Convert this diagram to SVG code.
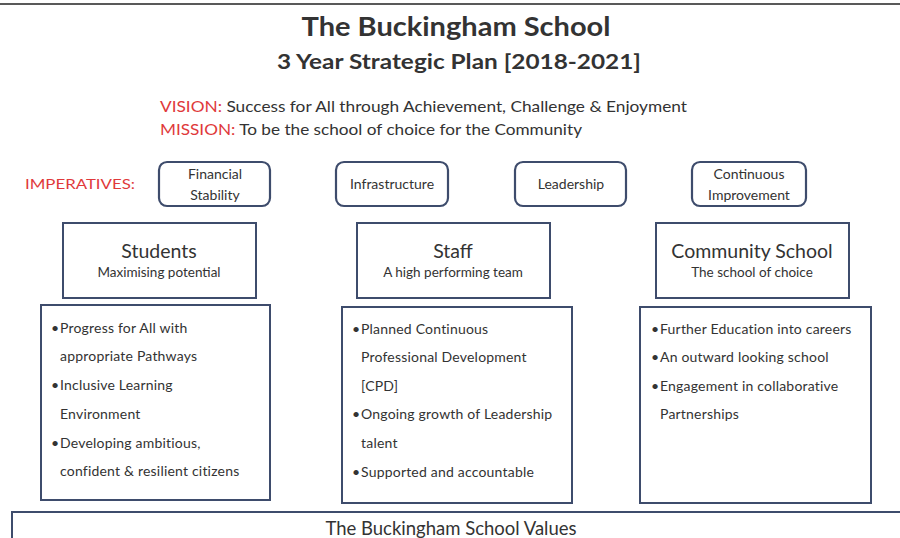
<svg xmlns="http://www.w3.org/2000/svg" width="900" height="538" viewBox="0 0 900 538">
<style>
text{font-family:Lato,"Liberation Sans",sans-serif;fill:#333}
.box{fill:#fff;stroke:#3e4c6c;stroke-width:2}
.imp{fill:#fff;stroke:#3e4c6c;stroke-width:2.2}
.red{fill:#e0393b}
.it{font-size:14px;text-anchor:middle}
.ht{font-size:19.5px;text-anchor:middle}
.hs{font-size:13.5px;text-anchor:middle}
.dt{font-size:14px;letter-spacing:0.2px}
</style>
<rect width="900" height="538" fill="#fff"/>
<line x1="0" y1="4" x2="900" y2="4" stroke="#222" stroke-width="1.5"/>
<g id="title">
<text x="456" y="36" font-size="26" font-weight="bold" text-anchor="middle" fill="#222" textLength="309" lengthAdjust="spacingAndGlyphs">The Buckingham School</text>
<text x="459" y="69" font-size="21" font-weight="bold" text-anchor="middle" fill="#222" textLength="364" lengthAdjust="spacingAndGlyphs">3 Year Strategic Plan [2018-2021]</text>
</g>
<g id="vision">
<text x="160" y="112" font-size="15" textLength="527" lengthAdjust="spacingAndGlyphs"><tspan class="red">VISION:</tspan> Success for All through Achievement, Challenge &amp; Enjoyment</text>
<text x="160" y="135" font-size="15" textLength="422" lengthAdjust="spacingAndGlyphs"><tspan class="red">MISSION:</tspan> To be the school of choice for the Community</text>
</g>
<text x="25" y="189" font-size="14" class="red" textLength="110" lengthAdjust="spacingAndGlyphs">IMPERATIVES:</text>
<g id="imp-financial"><rect class="imp" x="159" y="162" width="111" height="44" rx="8"/><text class="it" x="215" y="179">Financial</text><text class="it" x="215" y="200">Stability</text></g>
<g id="imp-infrastructure"><rect class="imp" x="336" y="162" width="112" height="44" rx="8"/><text class="it" x="392" y="189">Infrastructure</text></g>
<g id="imp-leadership"><rect class="imp" x="515" y="162" width="111" height="44" rx="8"/><text class="it" x="571" y="189">Leadership</text></g>
<g id="imp-continuous"><rect class="imp" x="692" y="162" width="114" height="44" rx="8"/><text class="it" x="749" y="179">Continuous</text><text class="it" x="749" y="200">Improvement</text></g>
<g id="students">
<rect class="box" x="63" y="223" width="193" height="75"/>
<text class="ht" x="159" y="258">Students</text>
<text class="hs" x="159" y="277">Maximising potential</text>
</g>
<g id="staff">
<rect class="box" x="357" y="223" width="193" height="75"/>
<text class="ht" x="453" y="258">Staff</text>
<text class="hs" x="453" y="277">A high performing team</text>
</g>
<g id="community">
<rect class="box" x="656" y="223" width="193" height="75"/>
<text class="ht" x="752" y="258">Community School</text>
<text class="hs" x="752" y="277">The school of choice</text>
</g>
<g id="students-detail">
<rect class="box" x="41" y="305" width="229" height="195"/>
<text class="dt" x="51" y="333">•</text><text class="dt" x="60" y="333">Progress for All with</text>
<text class="dt" x="60" y="361">appropriate  Pathways</text>
<text class="dt" x="51" y="390">•</text><text class="dt" x="60" y="390">Inclusive Learning</text>
<text class="dt" x="60" y="419">Environment</text>
<text class="dt" x="51" y="448">•</text><text class="dt" x="60" y="448">Developing ambitious,</text>
<text class="dt" x="60" y="476">confident &amp; resilient citizens</text>
</g>
<g id="staff-detail">
<rect class="box" x="342" y="307" width="230" height="196"/>
<text class="dt" x="352" y="334">•</text><text class="dt" x="361" y="334">Planned Continuous</text>
<text class="dt" x="361" y="362">Professional Development</text>
<text class="dt" x="361" y="391">[CPD]</text>
<text class="dt" x="352" y="419">•</text><text class="dt" x="361" y="419">Ongoing growth of Leadership</text>
<text class="dt" x="361" y="448">talent</text>
<text class="dt" x="352" y="477">•</text><text class="dt" x="361" y="477">Supported  and accountable</text>
</g>
<g id="community-detail">
<rect class="box" x="640" y="307" width="231" height="196"/>
<text class="dt" x="651" y="334">•</text><text class="dt" x="660" y="334">Further Education into careers</text>
<text class="dt" x="651" y="362">•</text><text class="dt" x="660" y="362">An outward  looking school</text>
<text class="dt" x="651" y="391">•</text><text class="dt" x="660" y="391">Engagement in collaborative</text>
<text class="dt" x="660" y="419">Partnerships</text>
</g>
<g id="values">
<rect class="box" x="12" y="512" width="900" height="40"/>
<text x="451" y="535" font-size="18.5" text-anchor="middle">The Buckingham School Values</text>
</g>
<g id="connectors"></g>
</svg>
